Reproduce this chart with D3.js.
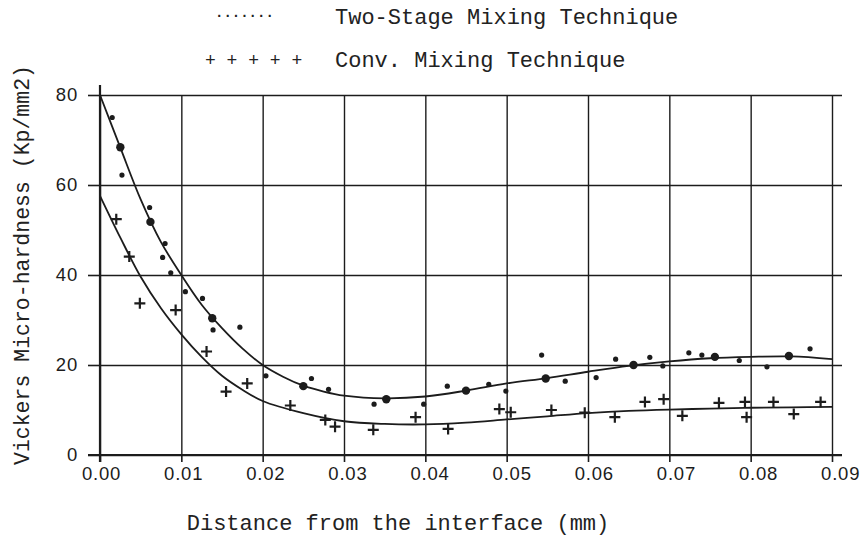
<!DOCTYPE html>
<html>
<head>
<meta charset="utf-8">
<script src="https://cdn.jsdelivr.net/npm/d3@7"></script>
<style>
  body { margin: 0; background: #fff; }
  .mono { font-family: "Liberation Mono", "DejaVu Sans Mono", monospace; fill: #222; }
  .tick text { font-family: "Liberation Sans", Arial, sans-serif; font-size: 18.5px; fill: #1c1c1c; letter-spacing: 0.8px; }
</style>
</head>
<body>
<div id="chart"></div>
<script>
// two-stage mixing: single readings (small dots) and means (large dots)
const twoStageX = [0.0015, 0.0027, 0.0061, 0.0080, 0.0077, 0.0087, 0.0105, 0.0126, 0.0139, 0.0172, 0.0204, 0.0260, 0.0281, 0.0337, 0.0398, 0.0427, 0.0478, 0.0499, 0.0543, 0.0572, 0.0610, 0.0634, 0.0676, 0.0692, 0.0724, 0.0740, 0.0786, 0.0820, 0.0873];
const twoStageY = [75.0, 62.2, 55.0, 47.0, 43.9, 40.5, 36.3, 34.8, 27.8, 28.4, 17.6, 17.0, 14.6, 11.3, 11.3, 15.3, 15.7, 14.2, 22.2, 16.4, 17.2, 21.3, 21.7, 19.8, 22.7, 22.2, 21.0, 19.6, 23.6];
const twoStageMeanX = [0.0025, 0.0062, 0.0138, 0.0250, 0.0352, 0.0450, 0.0548, 0.0656, 0.0756, 0.0847];
const twoStageMeanY = [68.4, 51.8, 30.4, 15.3, 12.4, 14.3, 17.0, 20.0, 21.8, 22.0];

// conventional mixing: readings (plus signs)
const convX = [0.0020, 0.0036, 0.0049, 0.0093, 0.0131, 0.0155, 0.0181, 0.0234, 0.0277, 0.0289, 0.0336, 0.0388, 0.0428, 0.0491, 0.0505, 0.0555, 0.0596, 0.0633, 0.0670, 0.0693, 0.0716, 0.0761, 0.0793, 0.0795, 0.0828, 0.0853, 0.0886];
const convY = [52.4, 44.1, 33.7, 32.2, 23.0, 14.1, 15.9, 11.0, 7.8, 6.3, 5.6, 8.4, 5.8, 10.2, 9.5, 10.0, 9.4, 8.4, 11.8, 12.4, 8.7, 11.6, 11.8, 8.4, 11.8, 9.1, 11.8];

// fitted curves
const twoStageFitX = [0, 0.0025, 0.005, 0.0075, 0.01, 0.0125, 0.015, 0.0175, 0.02, 0.0225, 0.025, 0.0275, 0.03, 0.035, 0.04, 0.045, 0.05, 0.055, 0.06, 0.065, 0.07, 0.075, 0.08, 0.085, 0.09];
const twoStageFitY = [80, 68.3, 56.8, 47.3, 40, 33.4, 28.2, 23.7, 20, 17.4, 15.4, 14.1, 13.2, 12.6, 13.0, 14.3, 15.9, 17.1, 18.5, 19.8, 20.8, 21.5, 21.8, 21.9, 21.3];
const convFitX = [0, 0.0025, 0.005, 0.0075, 0.01, 0.0125, 0.015, 0.0175, 0.02, 0.025, 0.03, 0.035, 0.04, 0.045, 0.05, 0.055, 0.06, 0.065, 0.07, 0.075, 0.08, 0.085, 0.09];
const convFitY = [57.6, 48.3, 39.6, 32.6, 26.8, 21.8, 17.6, 14.5, 12.0, 9.3, 7.5, 6.9, 6.8, 7.2, 7.9, 8.6, 9.3, 9.8, 10.1, 10.3, 10.5, 10.6, 10.7];

const xTicks = [0, 0.01, 0.02, 0.03, 0.04, 0.05, 0.06, 0.07, 0.08, 0.09];
const yTicks = [0, 20, 40, 60, 80];

const ink = "#1c1c1c";
const margin = {top: 95, left: 100};
const width = 732, height = 360;

const svg = d3.select("#chart").append("svg")
    .attr("width", 863)
    .attr("height", 536);

const x = d3.scaleLinear().domain([0, 0.09]).range([0, width]);
const y = d3.scaleLinear().domain([0, 80]).range([height, 0]);

const g = svg.append("g")
    .attr("transform", "translate(" + margin.left + "," + margin.top + ")");

// grid lines
g.append("g")
    .attr("class", "grid")
    .call(d3.axisLeft(y).tickValues(yTicks).tickSize(-(width + 10)).tickFormat(""))
    .call(s => s.select(".domain").remove())
    .selectAll("line").attr("stroke", ink).attr("stroke-width", 1.4);

g.append("g")
    .attr("class", "grid")
    .call(d3.axisBottom(x).tickValues(xTicks).tickSize(height).tickFormat(""))
    .call(s => s.select(".domain").remove())
    .selectAll("line").attr("stroke", ink).attr("stroke-width", 1.4);

// axes
const yAxis = g.append("g")
    .call(d3.axisLeft(y).tickValues(yTicks).tickSize(12).tickPadding(10).tickSizeOuter(0));
yAxis.select(".domain").remove();
yAxis.selectAll("line").attr("stroke", ink).attr("stroke-width", 1.6);

const xAxis = g.append("g")
    .attr("transform", "translate(0," + height + ")")
    .call(d3.axisBottom(x).tickValues(xTicks).tickSize(7).tickPadding(5).tickSizeOuter(0)
        .tickFormat(d3.format(".2f")));
xAxis.select(".domain").remove();
xAxis.selectAll("line").attr("stroke", ink).attr("stroke-width", 1.6);
// the printed labels sit a little right of their ticks, drifting to the right
xAxis.selectAll(".tick text").attr("dx", (d, i) => 1 + i * 0.8);

// heavier zero line and y axis
g.append("line")
    .attr("x1", -12).attr("x2", width + 10)
    .attr("y1", y(0)).attr("y2", y(0))
    .attr("stroke", ink).attr("stroke-width", 2.2);
g.append("line")
    .attr("x1", x(0)).attr("x2", x(0))
    .attr("y1", -10).attr("y2", height + 7)
    .attr("stroke", ink).attr("stroke-width", 2.2);

// fitted curves
const line = d3.line()
    .x(d => x(d[0]))
    .y(d => y(d[1]))
    .curve(d3.curveCatmullRom.alpha(0.5));

g.append("path")
    .datum(d3.zip(twoStageFitX, twoStageFitY))
    .attr("fill", "none").attr("stroke", ink).attr("stroke-width", 1.8)
    .attr("d", line);

g.append("path")
    .datum(d3.zip(convFitX, convFitY))
    .attr("fill", "none").attr("stroke", ink).attr("stroke-width", 1.8)
    .attr("d", line);

// points
g.selectAll(".dot")
    .data(d3.zip(twoStageX, twoStageY))
    .enter().append("circle")
    .attr("class", "dot")
    .attr("cx", d => x(d[0]))
    .attr("cy", d => y(d[1]))
    .attr("r", 2.6)
    .attr("fill", ink);

g.selectAll(".mean")
    .data(d3.zip(twoStageMeanX, twoStageMeanY))
    .enter().append("circle")
    .attr("class", "mean")
    .attr("cx", d => x(d[0]))
    .attr("cy", d => y(d[1]))
    .attr("r", 4.2)
    .attr("fill", ink);

g.selectAll(".plus")
    .data(d3.zip(convX, convY))
    .enter().append("path")
    .attr("class", "plus")
    .attr("transform", d => "translate(" + x(d[0]) + "," + y(d[1]) + ")")
    .attr("d", "M-5.5,0H5.5M0,-5.5V5.5")
    .attr("stroke", ink)
    .attr("stroke-width", 2.2);

// legend
svg.append("text").attr("class", "mono")
    .attr("x", 215).attr("y", 17)
    .style("font-size", "14px")
    .style("font-weight", "bold")
    .text(".......");
svg.append("text").attr("class", "mono")
    .attr("x", 335).attr("y", 24)
    .style("font-size", "22px")
    .text("Two-Stage Mixing Technique");
svg.append("text").attr("class", "mono")
    .attr("x", 205).attr("y", 66)
    .style("font-size", "18px")
    .text("+ + + + +");
svg.append("text").attr("class", "mono")
    .attr("x", 335).attr("y", 67)
    .style("font-size", "22px")
    .text("Conv. Mixing Technique");

// axis titles
svg.append("text").attr("class", "mono")
    .attr("x", 398).attr("y", 530)
    .attr("text-anchor", "middle")
    .style("font-size", "22px")
    .text("Distance from the interface (mm)");

svg.append("text").attr("class", "mono")
    .attr("transform", "translate(29,265) rotate(-90)")
    .attr("text-anchor", "middle")
    .style("font-size", "21.5px")
    .text("Vickers Micro-hardness (Kp/mm2)");
</script>
</body>
</html>
